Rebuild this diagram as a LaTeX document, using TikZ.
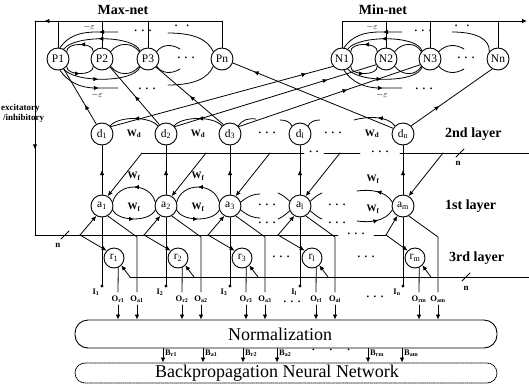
\documentclass[tikz,border=0pt]{standalone}
\usepackage{fontspec}
\setmainfont{Liberation Serif}
\usetikzlibrary{arrows.meta,decorations.markings}
\newcommand{\mydots}{·\hspace{3.5pt}·\hspace{3.5pt}·}
\tikzset{
  neuron/.style={circle,draw,line width=0.9pt,minimum size=22pt,inner sep=0pt,font=\fontsize{11.5}{11.5}\selectfont},
  rneuron/.style={neuron,minimum size=20pt},
  wire/.style={line width=0.8pt},
  midarrow/.style={postaction={decorate},decoration={markings,mark=at position #1 with {\arrow{Latex[length=5pt,width=4.5pt]}}}},
  midarrow/.default=0.5,
  tipend/.style={-{Latex[length=5pt,width=4.5pt]}},
  wlbl/.style={font=\bfseries\fontsize{10}{10}\selectfont,inner sep=0pt},
  olbl/.style={font=\bfseries\fontsize{8.5}{8.5}\selectfont,inner sep=0pt},
  nlbl/.style={font=\bfseries\fontsize{9}{9}\selectfont,inner sep=0pt},
  ttl/.style={font=\bfseries\fontsize{14}{14}\selectfont,inner sep=0pt},
  layerlbl/.style={font=\bfseries\fontsize{14}{14}\selectfont,inner sep=0pt,anchor=west},
  dotlbl/.style={font=\bfseries\fontsize{11}{11}\selectfont,inner sep=0pt},
  epslbl/.style={font=\fontsize{9.5}{9.5}\selectfont,inner sep=0pt},
}
\begin{document}
\begin{tikzpicture}[x=1pt,y=-1pt,line join=round,line cap=round]
\useasboundingbox (0,0) rectangle (529,386);

% ---------- titles
\node[ttl] (tmax) at (123,10) {Max-net};
\node[ttl] (tmin) at (383,10) {Min-net};

% ---------- Max-net / Min-net nodes
\node[neuron] (P1) at (58,59) {P1};
\node[neuron] (P2) at (102,59) {P2};
\node[neuron] (P3) at (148,59) {P3};
\node[neuron] (Pn) at (222,59) {Pn};
\node[neuron] (N1) at (342,59) {N1};
\node[neuron] (N2) at (386,59) {N2};
\node[neuron] (N3) at (430,59) {N3};
\node[neuron] (Nn) at (498,59) {Nn};

% ---------- top lines
\coordinate (tl) at (35,21);
\coordinate (tp) at (222,21);
\coordinate (lb) at (35,235);
\coordinate (tr) at (527,21);
\draw[wire] (Pn.north) -- (tp);
\draw[wire,midarrow=0.95] (tp) -- (tl);
\draw[wire,midarrow=0.6] (tl) -- (lb);
\draw[wire] (P1.north) -- (P1.north |- tl);
\draw[wire] (P2.north) -- (P2.north |- tl);
\draw[wire] (P3.north) -- (P3.north |- tl);
\draw[wire,tipend] (N1.north) |- (tr);
\draw[wire] (N2.north) -- (N2.north |- tr);
\draw[wire] (N3.north) -- (N3.north |- tr);
\draw[wire] (Nn.north) -- (Nn.north |- tr);

\node[nlbl,anchor=west] (ex1) at (1,108) {excitatory};
\node[nlbl,anchor=west] (ex2) at (3,118) {/inhibitory};

% ---------- Max-net arcs
\draw[wire,midarrow] (P2.140) .. controls (94,42) and (66,42) .. (P1.40);
\draw[wire,midarrow=0.55] (P3.135) .. controls (134,35) and (74,35) .. (P1.60);
\draw[wire,midarrow=0.3] (118,32) -- (96,32) .. controls (80,32) and (68,36) .. (P1.80);
\draw[wire] (P2.40) .. controls (118,42) and (132,42) .. (P3.140);
\draw[wire] (P3.40) .. controls (162,44) and (172,44) .. (180,49);
\draw[wire] (168,33) .. controls (195,33) and (208,40) .. (Pn.140);
\draw[wire,midarrow] (P1.-40) .. controls (66,76) and (94,76) .. (P2.-140);
\draw[wire,midarrow=0.45] (P1.-60) .. controls (74,83) and (134,83) .. (P3.-135);
\draw[wire,midarrow=0.7] (P1.-80) .. controls (68,82) and (80,88) .. (96,88) -- (118,88);
\draw[wire] (P2.-40) .. controls (118,76) and (132,76) .. (P3.-140);
\draw[wire] (P3.-40) .. controls (162,74) and (172,74) .. (180,69);
\draw[wire] (Pn.-140) .. controls (208,78) and (195,85) .. (168,85);
\node[epslbl] (e1) at (89,27) {$-\varepsilon$};
\node[epslbl] (e2) at (97,95) {$-\varepsilon$};
\node[dotlbl] (pd1) at (143,32) {\mydots};
\node[dotlbl] (pd2) at (182,27) {·\hspace{8pt}·};
\node[dotlbl] (pd3) at (186,59) {\mydots};
\node[dotlbl] (pd4) at (147,90) {\mydots};

% ---------- Min-net arcs
\draw[wire,midarrow] (N2.140) .. controls (378,42) and (350,42) .. (N1.40);
\draw[wire,midarrow=0.55] (N3.135) .. controls (418,35) and (358,35) .. (N1.60);
\draw[wire,midarrow=0.3] (402,32) -- (380,32) .. controls (364,32) and (352,36) .. (N1.80);
\draw[wire] (N2.40) .. controls (402,42) and (416,42) .. (N3.140);
\draw[wire] (N3.40) .. controls (446,44) and (456,44) .. (464,49);
\draw[wire] (452,32) .. controls (478,32) and (490,40) .. (Nn.140);
\draw[wire,midarrow] (N1.-40) .. controls (350,76) and (378,76) .. (N2.-140);
\draw[wire,midarrow=0.45] (N1.-60) .. controls (358,83) and (418,83) .. (N3.-135);
\draw[wire,midarrow=0.7] (N1.-80) .. controls (352,82) and (364,88) .. (380,88) -- (402,88);
\draw[wire] (N2.-40) .. controls (402,76) and (416,76) .. (N3.-140);
\draw[wire] (N3.-40) .. controls (446,74) and (456,74) .. (464,69);
\node[epslbl] (e3) at (372,27) {$-\varepsilon$};
\node[epslbl] (e4) at (382,95) {$-\varepsilon$};
\node[dotlbl] (nd1) at (423,32) {\mydots};
\node[dotlbl] (nd2) at (462,27) {·\hspace{8pt}·};
\node[dotlbl] (nd3) at (466,59) {\mydots};
\node[dotlbl] (nd4) at (424,90) {\mydots};

% ---------- 2nd layer (d)
\node[neuron] (d1) at (102,134) {d\textsubscript{1}};
\node[neuron] (d2) at (166,134) {d\textsubscript{2}};
\node[neuron] (d3) at (230,134) {d\textsubscript{3}};
\node[neuron] (dl) at (300,134) {d\textsubscript{l}};
\node[neuron] (dm) at (403,134) {d\textsubscript{n}};
\draw[wire,midarrow] (d2.135) .. controls (150,116) and (118,116) .. (d1.45);
\draw[wire,midarrow] (d3.135) .. controls (214,116) and (182,116) .. (d2.45);
\draw[wire] (d3.45) .. controls (242,120) and (248,118) .. (256,119);
\draw[wire] (dl.135) .. controls (290,122) and (286,120) .. (280,120);
\draw[wire] (dl.45) .. controls (310,122) and (314,120) .. (320,120);
\draw[wire,midarrow=0.45] (dm.135) .. controls (388,116) and (368,116) .. (354,120);
\node[wlbl] (wd1) at (134,134) {W\textsubscript{d}};
\node[wlbl] (wd2) at (198,134) {W\textsubscript{d}};
\node[wlbl] (wd3) at (372,134) {W\textsubscript{d}};
\node[dotlbl] (dd1) at (267,134) {\mydots};
\node[dotlbl] (dd2) at (333,134) {\mydots};
\node[layerlbl] (L2) at (445,134) {2nd layer};

% ---------- crossing connections d -> P / N
\draw[wire,midarrow=0.35] (d1.120) -- (P1.-60);
\draw[wire,midarrow=0.5] (d2.125) -- (P2.-45);
\draw[wire,midarrow=0.5] (d3.125) -- (P3.-45);
\draw[wire,midarrow=0.87] (dm.150) -- (Pn.-20);
\draw[wire,midarrow=0.88] (d1.40) -- (N1.-140);
\draw[wire,midarrow=0.76] (d2.40) -- (N2.-150);
\draw[wire,midarrow=0.6] (d3.40) -- (N3.-150);
\draw[wire,midarrow=0.35] (dm.45) -- (Nn.-120);

% ---------- 1st layer (a)
\node[neuron] (a1) at (102,206) {a\textsubscript{1}};
\node[neuron] (a2) at (166,206) {a\textsubscript{2}};
\node[neuron] (a3) at (230,206) {a\textsubscript{3}};
\node[neuron] (al) at (300,206) {a\textsubscript{l}};
\node[neuron] (am) at (403,206) {a\textsubscript{m}};
\draw[wire,midarrow] (a2.160) .. controls (150,182) and (118,182) .. (a1.20);
\draw[wire,midarrow] (a1.-20) .. controls (118,222) and (150,222) .. (a2.-160);
\draw[wire,midarrow] (a3.160) .. controls (214,182) and (182,182) .. (a2.20);
\draw[wire,midarrow] (a2.-20) .. controls (182,222) and (214,222) .. (a3.-160);
\draw[wire] (a3.20) .. controls (248,196) and (254,194) .. (260,194);
\draw[wire] (a3.-20) .. controls (248,216) and (254,218) .. (260,218);
\draw[wire] (al.155) .. controls (286,198) and (283,195) .. (278,193);
\draw[wire] (al.25) .. controls (314,198) and (317,195) .. (322,193);
\draw[wire] (al.-155) .. controls (286,214) and (283,217) .. (278,219);
\draw[wire] (al.-25) .. controls (314,214) and (317,217) .. (322,219);
\draw[wire,midarrow=0.5] (am.160) .. controls (386,191) and (370,189) .. (357,191);
\draw[wire,midarrow=0.55] (357,221) .. controls (370,223) and (386,221) .. (am.-160);
\node[wlbl] (wf1) at (134,176) {W\textsubscript{f}};
\node[wlbl] (wf2) at (134,207) {W\textsubscript{f}};
\node[wlbl] (wf3) at (198,176) {W\textsubscript{f}};
\node[wlbl] (wf4) at (198,207) {W\textsubscript{f}};
\node[wlbl] (wf5) at (373,179) {W\textsubscript{f}};
\node[wlbl] (wf6) at (373,209) {W\textsubscript{f}};
\node[dotlbl] (ad1) at (267,206) {\mydots};
\node[dotlbl] (ad2) at (337,206) {\mydots};
\node[dotlbl] (ad3) at (267,224) {\mydots};
\node[dotlbl] (ad4) at (337,224) {\mydots};
\node[layerlbl] (L1) at (445,206) {1st layer};

% ---------- 3rd layer (r)
\node[rneuron] (r1) at (114,258) {r\textsubscript{1}};
\node[rneuron] (r2) at (178,258) {r\textsubscript{2}};
\node[rneuron] (r3) at (242,258) {r\textsubscript{3}};
\node[rneuron] (rl) at (312,258) {r\textsubscript{l}};
\node[rneuron] (rm) at (415,258) {r\textsubscript{m}};
\node[dotlbl] (rd1) at (281,258) {\mydots};
\node[dotlbl] (rd2) at (366,258) {\mydots};
\node[layerlbl] (L3) at (449,258) {3rd layer};

% ---------- output boxes
\node[draw,line width=0.9pt,rounded corners=13pt,minimum width=422pt,minimum height=28pt,inner sep=0pt,
      font=\fontsize{18}{18}\selectfont] (norm) at (286,334) {\hspace*{-12pt}Normalization};
\node[draw,densely dotted,line width=0.9pt,rounded corners=10pt,minimum width=422pt,minimum height=20pt,inner sep=0pt,
      font=\fontsize{18}{18}\selectfont] (bp) at (286,373) {\hspace*{-18pt}Backpropagation Neural Network};

% ---------- buses
\draw[wire] (lb) -- (338,235);
\draw[wire] (374,235) -- (386,235);
\node[dotlbl] (bd1) at (356,235) {\mydots};
\draw[wire] (61,239) -- (69,231);
\node[nlbl] (nb1) at (58,245) {n};

\draw[wire] (142,153) -- (304,153);
\draw[wire] (324,153) -- (360,153);
\draw[wire] (400,153) -- (529,153);
\node[dotlbl] (ud1) at (314,153) {·\hspace{3pt}·};
\node[dotlbl] (ud2) at (380,153) {\mydots};
\draw[wire] (456,157) -- (464,149);
\node[nlbl] (nb2) at (458,163) {n};

\coordinate (rbstart) at (130,277);
\draw[wire] (rbstart) -- (529,277);
\draw[wire] (462,281) -- (470,273);
\node[nlbl] (nb3) at (466,288) {n};

% ---------- per-column wiring
\foreach \i/\x/\rx/\bx in {1/102/114/80, 2/166/178/144, 3/230/242/208, l/300/312/278, m/403/415/386}{
  \draw[wire,midarrow] (a\i.north) -- (d\i.south);
  \coordinate (ub\i) at (\x+40,153);
  \draw[wire,tipend] (ub\i) -- (a\i.60);
  \coordinate (lb\i) at (\bx,235);
  \draw[wire,tipend] (lb\i) -- (a\i.-120);
  \draw[wire,tipend] (lb\i) -- (r\i.135);
  \coordinate (I\i) at (\x,286);
  \draw[wire] (I\i) -- (a\i.south);
  \fill (I\i) circle (1.7pt);
  \coordinate (oa\i) at (\x+35,292);
  \draw[wire] (a\i.-60) -- (\x+35,237) -- (oa\i);
  \coordinate (or\i) at (\rx+4,292);
  \draw[wire] (r\i.-66) -- (or\i);
  \coordinate (rb\i) at (\rx+16,277);
  \draw[wire,tipend] (rb\i) -- (r\i.-45);
  \draw[wire,tipend] (\x+35,305) -- (\x+35,0 |- norm.north);
  \draw[wire,tipend] (\rx+4,305) -- (\rx+4,0 |- norm.north);
}

% ---------- input / output labels
\node[olbl] (i1) at (96,292) {I\textsubscript{1}};
\node[olbl] (i2) at (160,292) {I\textsubscript{2}};
\node[olbl] (i3) at (224,292) {I\textsubscript{3}};
\node[olbl] (il) at (294,292) {I\textsubscript{l}};
\node[olbl] (in) at (397,292) {I\textsubscript{n}};
\node[olbl] (or1) at (118,299) {O\textsubscript{r1}};
\node[olbl] (oa1) at (137,299) {O\textsubscript{a1}};
\node[olbl] (or2) at (182,299) {O\textsubscript{r2}};
\node[olbl] (oa2) at (201,299) {O\textsubscript{a2}};
\node[olbl] (or3) at (246,299) {O\textsubscript{r3}};
\node[olbl] (oa3) at (265,299) {O\textsubscript{a3}};
\node[olbl] (orl) at (316,299) {O\textsubscript{rl}};
\node[olbl] (oal) at (335,299) {O\textsubscript{al}};
\node[olbl] (orm) at (419,299) {O\textsubscript{rm}};
\node[olbl] (oam) at (438,299) {O\textsubscript{am}};
\node[dotlbl] (od1) at (292,303) {\mydots};
\node[dotlbl] (od2) at (375,298) {\mydots};

% ---------- B connections
\foreach \x/\t in {163/r1, 203/a1, 243/r2, 277/a2, 368/rm, 402/am}{
  \draw[wire,tipend] (\x,0 |- norm.south) -- (\x,0 |- bp.north);
  \node[olbl,anchor=west] (B\t) at (\x+2,353) {B\textsubscript{\t}};
}
\node[dotlbl] (bdots) at (331,351) {·\hspace{14pt}·\hspace{14pt}·};

\end{tikzpicture}
\end{document}
